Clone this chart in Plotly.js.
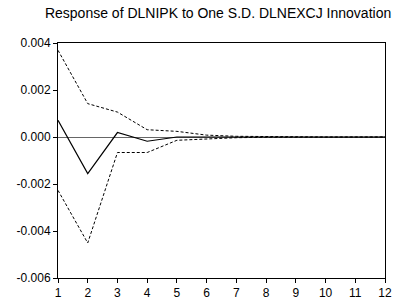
<!DOCTYPE html>
<html><head><meta charset="utf-8">
<script src="https://cdn.plot.ly/plotly-3.0.1.min.js"></script>
<style>html,body{margin:0;padding:0;background:#fff}#c{width:413px;height:300px}</style>
</head><body><div id="c"></div>
<script>
const periods = [1,2,3,4,5,6,7,8,9,10,11,12];
const response = [0.00071,-0.00156,0.00019,-0.00018,0.00000,0.00001,0.00000,0.00000,0.00000,0.00000,0.00000,0.00000];
const upper = [0.00369,0.00142,0.00106,0.00031,0.00024,0.00008,0.00003,0.00001,0.00000,0.00000,0.00000,0.00000];
const lower = [-0.00227,-0.00451,-0.00066,-0.00066,-0.00014,-0.00007,-0.00003,-0.00001,0.00000,0.00000,0.00000,0.00000];
const yTicks = [-0.006,-0.004,-0.002,0.000,0.002,0.004];
const yTickText = ["-0.006","-0.004","-0.002","0.000","0.002","0.004"];
const titleText = "Response of DLNIPK to One S.D. DLNEXCJ Innovation";

const traces = [
  {x: periods, y: upper, mode: 'lines', line: {color: '#000', width: 1, dash: '3px,2px'}, hoverinfo: 'skip'},
  {x: periods, y: lower, mode: 'lines', line: {color: '#000', width: 1, dash: '3px,2px'}, hoverinfo: 'skip'},
  {x: periods, y: response, mode: 'lines', line: {color: '#000', width: 1.2}, hoverinfo: 'skip'}
];
const layout = {
  width: 413, height: 300,
  margin: {l: 58, r: 28, t: 43, b: 22},
  paper_bgcolor: '#fff', plot_bgcolor: '#fff',
  showlegend: false,
  font: {family: 'Liberation Sans, Arial, sans-serif', size: 12, color: '#000'},
  title: {text: titleText, x: 0.528, xanchor: 'center', y: 0.955, yanchor: 'middle', font: {size: 14, color: '#000'}},
  xaxis: {range: [1, 12], tickvals: periods, ticktext: periods.map(String), showgrid: false, zeroline: false,
          showline: true, linecolor: '#000', linewidth: 1, mirror: true, ticks: 'outside', ticklen: 4, tickcolor: '#000', tickfont: {size: 12}},
  yaxis: {range: [-0.006, 0.004], tickvals: yTicks, ticktext: yTickText, showgrid: false, zeroline: true, zerolinecolor: '#666', zerolinewidth: 1,
          showline: true, linecolor: '#000', linewidth: 1, mirror: true, ticks: 'outside', ticklen: 4, tickcolor: '#000', tickfont: {size: 12}}
};
Plotly.newPlot('c', traces, layout, {staticPlot: true, displayModeBar: false});
</script></body></html>
